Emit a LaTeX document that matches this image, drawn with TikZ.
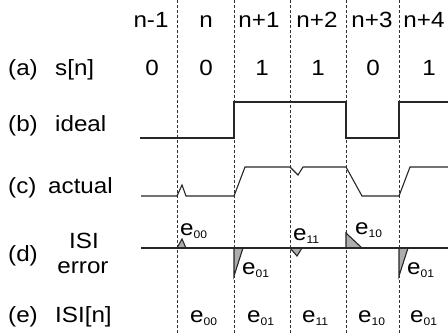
\documentclass[tikz,border=0pt]{standalone}
\usepackage{fontspec}
\setmainfont{Liberation Sans}[FakeStretch=1.1]
\usetikzlibrary{positioning}

\newcommand{\esub}[1]{e{\fontsize{11}{11}\selectfont\raisebox{-3pt}{#1}}}

\begin{document}
\begin{tikzpicture}[x=1pt, y=-1pt,
        txt/.style={font=\fontsize{22}{24}\selectfont, inner sep=0pt},
        slot/.style={densely dashed, line width=0.6pt, black!80},
        wave/.style={line width=1.1pt, black!85, line join=miter},
        isi/.style={wave, fill=black!32}]
        \useasboundingbox (0,0) rectangle (448,335);

        % symbol boundaries
        \draw[slot] (177,0) -- (177,335);
        \draw[slot] (234,0) -- (234,335);
        \draw[slot] (290,0) -- (290,335);
        \draw[slot] (346,0) -- (346,335);
        \draw[slot] (399,0) -- (399,335);

        % column heads
        \node (cm1) [txt, anchor=base] at (151,27) {n-1};
        \node (c0) [txt, anchor=base] at (206,27) {n};
        \node (c1) [txt, anchor=base] at (259,27) {n+1};
        \node (c2) [txt, anchor=base] at (317,27) {n+2};
        \node (c3) [txt, anchor=base] at (372,27) {n+3};
        \node (c4) [txt, anchor=base] at (424,27) {n+4};

        % row labels
        \node (ra) [txt, anchor=base west] at (8,75) {(a)};
        \node (rsn) [txt, anchor=base west] at (55,75) {s[n]};
        \node (rb) [txt, anchor=base west] at (8,131) {(b)};
        \node (rideal) [txt, anchor=base west] at (55,131) {ideal};
        \node (rc) [txt, anchor=base west] at (8,193) {(c)};
        \node (ractual) [txt, anchor=base west] at (48,193) {actual};
        \node (rd) [txt, anchor=base west] at (8,261) {(d)};
        \node (risi) [txt, anchor=base] at (84,248) {ISI};
        \node (rerror) [txt, anchor=base] at (83,273) {error};
        \node (re) [txt, anchor=base west] at (8,322) {(e)};
        \node (risin) [txt, anchor=base west] at (55,322) {ISI[n]};

        % (a) symbols
        \node (s1) [txt, anchor=base] at (152,75) {0};
        \node (s2) [txt, anchor=base] at (206,75) {0};
        \node (s3) [txt, anchor=base] at (262,75) {1};
        \node (s4) [txt, anchor=base] at (318,75) {1};
        \node (s5) [txt, anchor=base] at (373,75) {0};
        \node (s6) [txt, anchor=base] at (429,75) {1};

        % (b) ideal
        \draw[wave] (140,138) -- (234,138) -- (234,102) -- (346,102) -- (346,138)
            -- (399,138) -- (399,102) -- (448,102);

        % (c) actual
        \draw[wave] (141,196) -- (177,196) -- (182,185) -- (186,196) -- (234,196)
            -- (245,167) -- (290,167) -- (298,175) -- (303,167) -- (346,167)
            -- (362,196) -- (399,196) -- (410,167) -- (448,167);

        % (d) ISI error
        \filldraw[isi] (177,248) -- (182,239) -- (186,248) -- cycle;
        \filldraw[isi] (234,248) -- (234,276) -- (243,248) -- cycle;
        \filldraw[isi] (290,248) -- (297,256) -- (302,248) -- cycle;
        \filldraw[isi] (346,248) -- (346,233) -- (362,248) -- cycle;
        \filldraw[isi] (399,248) -- (399,276) -- (408,248) -- cycle;
        \draw[wave] (141,248) -- (448,248);

        \node (d1) [txt, anchor=base west] at (180,235) {\esub{00}};
        \node (d2) [txt, anchor=base west] at (242,274) {\esub{01}};
        \node (d3) [txt, anchor=base west] at (293,240) {\esub{11}};
        \node (d4) [txt, anchor=base west] at (355,234) {\esub{10}};
        \node (d5) [txt, anchor=base west] at (407,274) {\esub{01}};

        % (e) ISI[n]
        \node (i1) [txt, anchor=base west] at (190,322) {\esub{00}};
        \node (i2) [txt, anchor=base west] at (247,322) {\esub{01}};
        \node (i3) [txt, anchor=base west] at (302,322) {\esub{11}};
        \node (i4) [txt, anchor=base west] at (358,322) {\esub{10}};
        \node (i5) [txt, anchor=base west] at (410,322) {\esub{01}};
    \end{tikzpicture}
\end{document}
